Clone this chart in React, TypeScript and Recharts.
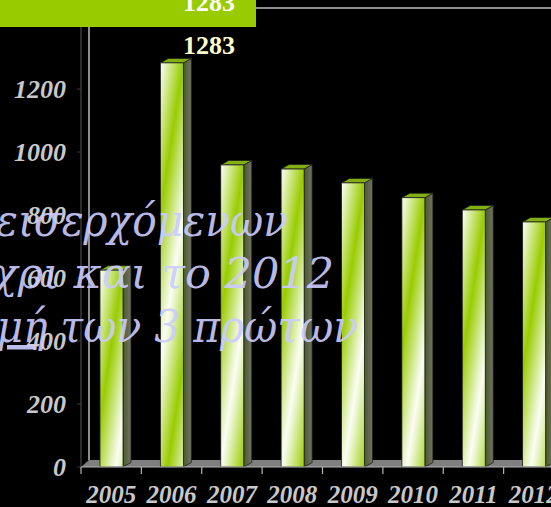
import { Bar, BarChart, LabelList, ReferenceArea, XAxis, YAxis } from "recharts";

const years = ["2005", "2006", "2007", "2008", "2009", "2010", "2011", "2012"];
const arrivals = [625, 1283, 959, 946, 902, 855, 816, 778];
const yTicks = [0, 200, 400, 600, 800, 1000, 1200];

const data = years.map((year, i) => ({ year, value: arrivals[i] }));
const peak = Math.max(...arrivals);

const serif = "'Liberation Serif', 'Times New Roman', serif";

// depth of the fake 3D extrusion
const DX = 8;
const DY = 4.5;

function Column3D(props: any) {
  const { x, y, width, height, index } = props;
  if (!height || height <= 0) return null;
  const gid = `face-${index}`;
  const sid = `side-${index}`;
  // diagonal stripes: white at the top-left, green to the right, repeating down
  const period = 150;
  const k = (period * width) / (period * period + width * width);
  return (
    <g>
      <defs>
        <linearGradient
          id={gid}
          gradientUnits="userSpaceOnUse"
          spreadMethod="reflect"
          x1={x}
          y1={y}
          x2={x + k * period}
          y2={y + k * width}
        >
          <stop offset="0" stopColor="#fbfdf4" />
          <stop offset="0.25" stopColor="#e4f2bd" />
          <stop offset="1" stopColor="#99cc00" />
        </linearGradient>
        <linearGradient id={sid} x1="0" y1="0" x2="1" y2="0">
          <stop offset="0" stopColor="#4a5b28" />
          <stop offset="1" stopColor="#727266" />
        </linearGradient>
      </defs>
      <path
        d={`M${x + width},${y} L${x + width + DX},${y - DY} L${x + width + DX},${y + height - DY} L${x + width},${y + height} Z`}
        fill={`url(#${sid})`}
        stroke="#1e1e1e"
        strokeWidth={0.8}
      />
      <path
        d={`M${x},${y} L${x + DX},${y - DY} L${x + width + DX},${y - DY} L${x + width},${y} Z`}
        fill="#82b012"
        stroke="#1e1e1e"
        strokeWidth={0.8}
      />
      <rect x={x} y={y} width={width} height={height} fill={`url(#${gid})`} stroke="#1e1e1e" strokeWidth={0.8} />
    </g>
  );
}

// back wall + floor of the 3D box
function Frame(props: any) {
  const { x, y, width, height } = props;
  const depth = 7;
  const bottom = y + height;
  return (
    <g>
      <path
        d={`M${x},${bottom} L${x + DX},${bottom - depth} L${x + width + DX},${bottom - depth} L${x + width},${bottom} Z`}
        fill="#7f7f7f"
      />
      <line x1={x + DX} y1={y - depth} x2={x + DX} y2={bottom - depth} stroke="#bdbdbd" strokeWidth={1.5} />
      <line x1={x + DX} y1={y - depth} x2={x + width + DX} y2={y - depth} stroke="#bdbdbd" strokeWidth={1.5} />
    </g>
  );
}

function YearTick(props: any) {
  const { x, y, payload } = props;
  const half = payload?.offset ?? 30;
  return (
    <g>
      <line x1={x - half} x2={x - half} y1={y} y2={y + 7} stroke="#b4b4b4" strokeWidth={1.2} />
      <text
        x={x}
        y={y + 36}
        textAnchor="middle"
        fill="#c8c8c8"
        fontFamily={serif}
        fontStyle="italic"
        fontWeight="bold"
        fontSize={25}
      >
        {payload.value}
      </text>
    </g>
  );
}

function PeakLabel(props: any) {
  const { x, y, width, value } = props;
  if (value !== peak) return null;
  return (
    <text
      x={x + width / 2 + 37}
      y={y - 9}
      textAnchor="middle"
      fill="#ffffcc"
      fontFamily={serif}
      fontWeight="bold"
      fontSize={26}
    >
      {value}
    </text>
  );
}

export default function App() {
  return (
    <div
      style={{
        position: "absolute",
        left: 0,
        top: 0,
        width: 551,
        height: 507,
        background: "#000",
        overflow: "hidden",
      }}
    >
      <BarChart width={600} height={507} data={data} margin={{ top: 15, right: 36, bottom: 0, left: 0 }} barSize={23}>
        <ReferenceArea y1={0} y2={1435} shape={<Frame />} ifOverflow="visible" />
        <YAxis
          width={81}
          domain={[0, 1435]}
          ticks={yTicks}
          interval={0}
          axisLine={{ stroke: "#3a3a3a", strokeWidth: 1.5 }}
          tickLine={{ stroke: "#3a3a3a" }}
          tickSize={4}
          tickMargin={11}
          tick={{ fill: "#c8c8c8", fontFamily: serif, fontStyle: "italic", fontWeight: "bold", fontSize: 26 }}
        />
        <XAxis
          dataKey="year"
          height={40}
          interval={0}
          axisLine={{ stroke: "#b4b4b4", strokeWidth: 1.2 }}
          tickLine={false}
          tickSize={0}
          tickMargin={0}
          tick={<YearTick />}
        />
        <Bar dataKey="value" shape={<Column3D />} isAnimationActive={false}>
          <LabelList dataKey="value" content={<PeakLabel />} />
        </Bar>
      </BarChart>
      <svg
        width={551}
        height={507}
        style={{ position: "absolute", left: 0, top: 0, pointerEvents: "none" }}
      >
        <rect x={0} y={0} width={256} height={27} fill="#99cc00" />
        <text x={209} y={11} textAnchor="middle" fill="#ffffff" fontFamily={serif} fontWeight="bold" fontSize={26}>
          1283
        </text>
        <g fill="#ccccff" fillOpacity={0.92} fontFamily="'DejaVu Serif', serif" fontStyle="italic" fontSize={45}>
          <text x={-4} y={236} textLength={292} lengthAdjust="spacingAndGlyphs">
            εισερχόμενων
          </text>
          <text x={334} y={288} textAnchor="end" fontSize={43}>
            μέχρι και το 2012
          </text>
          <text x={358} y={342} textAnchor="end" textLength={400} lengthAdjust="spacingAndGlyphs">
            <tspan textDecoration="underline">τιμή</tspan> των 3 πρώτων
          </text>
        </g>
      </svg>
    </div>
  );
}
